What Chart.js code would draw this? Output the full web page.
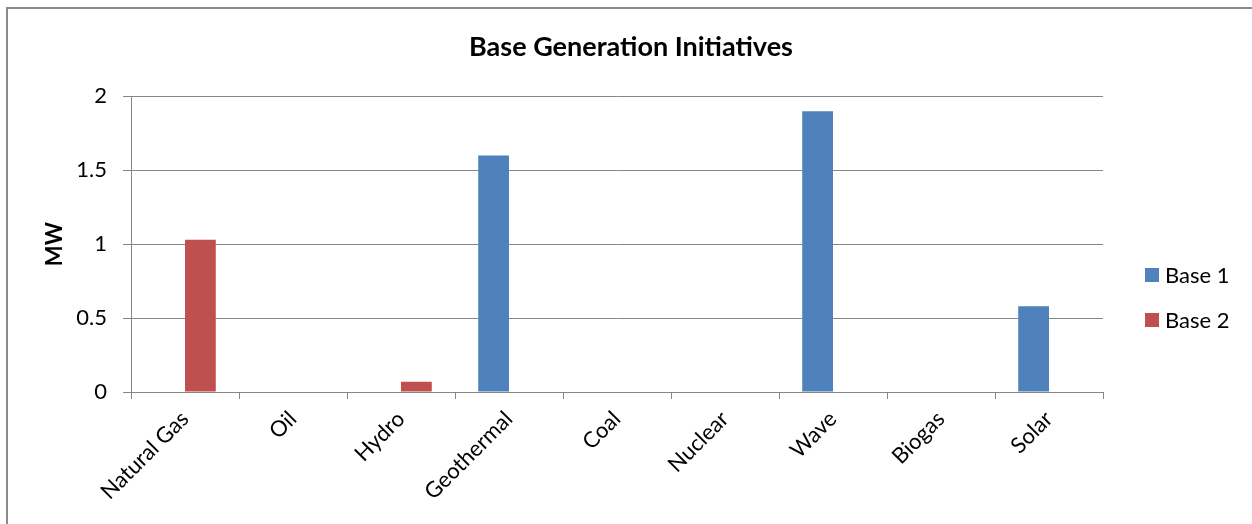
<!DOCTYPE html>
<html>
<head>
<meta charset="utf-8">
<title>Base Generation Initiatives</title>
<script src="https://cdn.jsdelivr.net/npm/chart.js@4/dist/chart.umd.min.js"></script>
<style>
  html, body { margin: 0; padding: 0; background: #ffffff; }
  #wrap { width: 1252px; height: 524px; position: relative; }
</style>
</head>
<body>
<div id="wrap"><canvas id="chart" width="1252" height="524"></canvas></div>
<script>
// Generation sources and installed capacity (MW) per base
const categories = ['Natural Gas', 'Oil', 'Hydro', 'Geothermal', 'Coal', 'Nuclear', 'Wave', 'Biogas', 'Solar'];
const base1 = [null, null, null, 1.6, null, null, 1.9, null, 0.58];
const base2 = [1.03, null, 0.07, null, null, null, null, null, null];
const seriesNames = ['Base 1', 'Base 2'];
const yTicks = [0, 0.5, 1, 1.5, 2];

const FONT = 'Lato, "Open Sans", sans-serif';
const GRID = '#868686';

// Outer frame around the whole chart
const framePlugin = {
  id: 'frame',
  afterDraw(chart) {
    const ctx = chart.ctx;
    ctx.save();
    ctx.strokeStyle = '#8a8a8a';
    ctx.lineWidth = 2;
    ctx.strokeRect(7, 8, 1300, 600);
    ctx.restore();
  }
};

// Legend on the right, square swatches stacked vertically
const sideLegend = {
  id: 'sideLegend',
  afterDraw(chart) {
    const ctx = chart.ctx;
    ctx.save();
    ctx.font = '22px ' + FONT;
    ctx.textBaseline = 'middle';
    ctx.textAlign = 'left';
    chart.data.datasets.forEach((ds, i) => {
      const cy = 275 + i * 45;
      ctx.fillStyle = ds.backgroundColor;
      ctx.fillRect(1145, cy - 7, 14, 14);
      ctx.fillStyle = '#000000';
      ctx.fillText(ds.label, 1165, cy + 1);
    });
    ctx.restore();
  }
};

new Chart(document.getElementById('chart'), {
  type: 'bar',
  data: {
    labels: categories,
    datasets: [
      { label: seriesNames[0], data: base1, backgroundColor: '#4F81BD', borderWidth: 0 },
      { label: seriesNames[1], data: base2, backgroundColor: '#C0504D', borderWidth: 0 }
    ]
  },
  options: {
    responsive: false,
    devicePixelRatio: 1,
    animation: false,
    categoryPercentage: 0.57,
    barPercentage: 1.0,
    layout: { padding: { left: 10, right: 0, top: 0, bottom: 0 } },
    plugins: {
      legend: { display: false },
      tooltip: { enabled: false },
      title: {
        display: true,
        text: 'Base Generation Initiatives',
        color: '#000000',
        font: { family: FONT, size: 27, weight: 'bold' },
        padding: { top: 31, bottom: 33 }
      }
    },
    scales: {
      x: {
        grid: { offset: true, drawOnChartArea: false, drawTicks: true, tickLength: 7, color: GRID },
        border: { display: true, color: GRID, width: 1 },
        ticks: {
          color: '#000000',
          font: { family: FONT, size: 22 },
          maxRotation: 45,
          minRotation: 45,
          autoSkip: false,
          padding: 7
        },
        afterFit(scale) { scale.height = 132; }
      },
      y: {
        min: 0,
        max: 2,
        afterBuildTicks(scale) { scale.ticks = yTicks.map(v => ({ value: v })); },
        grid: { color: GRID, tickLength: 8, drawTicks: true },
        border: { display: true, color: GRID, width: 1 },
        ticks: {
          color: '#000000',
          font: { family: FONT, size: 22 },
          padding: 16,
          callback: (v) => String(v)
        },
        title: {
          display: true,
          text: 'MW',
          color: '#000000',
          font: { family: FONT, size: 22, weight: 'bold' },
          padding: { top: 32, bottom: 0 }
        },
        afterFit(scale) { scale.width = 121; }
      },
      // empty right-hand band that holds the legend
      side: {
        type: 'linear',
        position: 'right',
        display: true,
        grid: { display: false, drawTicks: false },
        border: { display: false },
        ticks: { display: false },
        afterFit(scale) { scale.width = 149; }
      }
    }
  },
  plugins: [framePlugin, sideLegend]
});
</script>
</body>
</html>
